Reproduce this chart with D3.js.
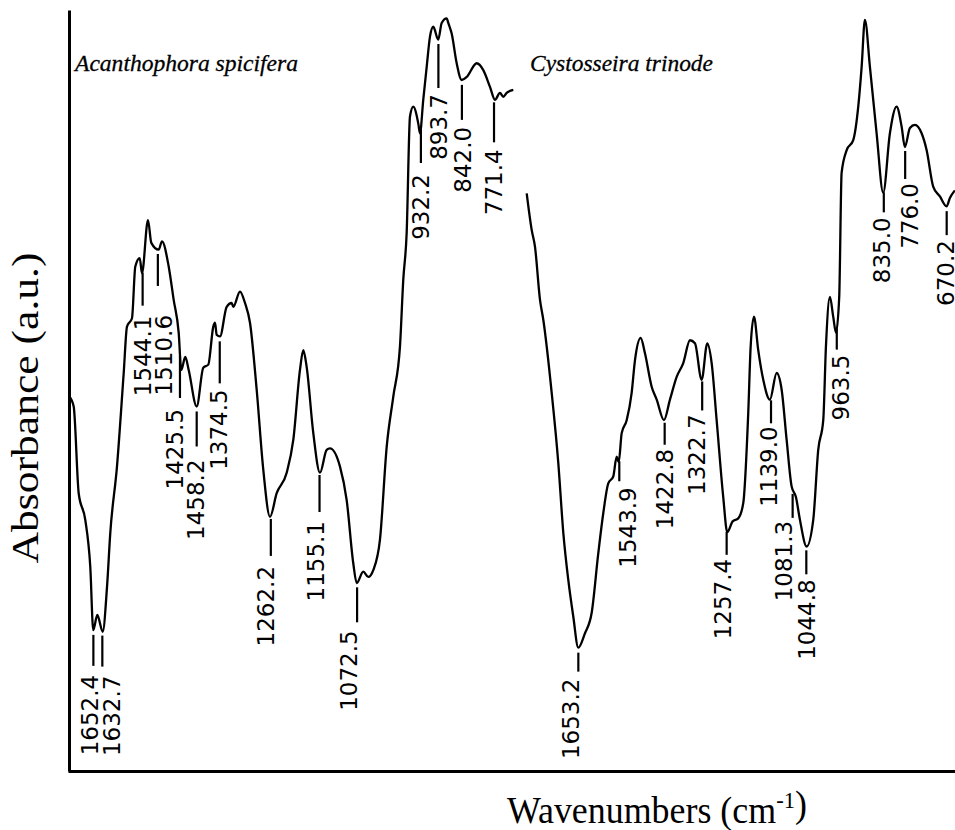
<!DOCTYPE html>
<html>
<head>
<meta charset="utf-8">
<script src="https://cdn.jsdelivr.net/npm/d3@7"></script>
<style>
  body { margin: 0; background: #fff; }
  .domain { stroke: #000; stroke-width: 3; }
</style>
</head>
<body>
<div class="chart"></div>
<script>
// Acanthophora spicifera: wavenumber (cm-1) and absorbance (a.u.)
var wnA = [1705.3, 1695.7, 1684.7, 1670.2, 1659.2, 1652.6, 1643.8, 1631.9, 1622.4, 1615.2,
  1600.5, 1585.7, 1578.5, 1567.5, 1560.2, 1550.5, 1545.5, 1532.3, 1525, 1508.8,
  1501.5, 1486.8, 1475.8, 1464.8, 1459.1, 1450.3, 1442.8, 1425.2, 1410.7, 1399.7,
  1388.7, 1385, 1381.2, 1374, 1359.3, 1348.3, 1344.7, 1330, 1319, 1308,
  1293.3, 1278.8, 1264, 1249.3, 1227.3, 1212.8, 1198.1, 1190.8, 1183.4, 1168.8,
  1154.1, 1139.4, 1132.1, 1110.1, 1095.4, 1080.9, 1073.4, 1058.9, 1047.9, 1036.9,
  1022.2, 1007.4, 992.9, 978.2, 971, 963.5, 956.2, 949, 938, 934.2,
  927, 919.5, 912.2, 905, 894, 886.5, 875.5, 872, 864.5, 853.5,
  842.5, 831.5, 809.5, 795, 780.3, 769.3, 758.3, 751, 743.6, 729];
var absA = [0.492, 0.479, 0.365, 0.330, 0.268, 0.185, 0.205, 0.183, 0.242, 0.313,
  0.400, 0.523, 0.584, 0.595, 0.663, 0.674, 0.654, 0.724, 0.694, 0.685,
  0.696, 0.663, 0.619, 0.576, 0.527, 0.544, 0.527, 0.479, 0.530, 0.534,
  0.584, 0.589, 0.573, 0.571, 0.610, 0.615, 0.610, 0.630, 0.615, 0.589,
  0.501, 0.396, 0.334, 0.365, 0.392, 0.435, 0.527, 0.553, 0.531, 0.444,
  0.392, 0.422, 0.424, 0.400, 0.356, 0.273, 0.247, 0.262, 0.255, 0.264,
  0.304, 0.426, 0.492, 0.558, 0.645, 0.707, 0.860, 0.873, 0.851, 0.838,
  0.882, 0.925, 0.965, 0.978, 0.961, 0.983, 0.989, 0.983, 0.969, 0.930,
  0.908, 0.912, 0.930, 0.921, 0.899, 0.882, 0.891, 0.886, 0.891, 0.895];

// Cystosseira trinode
var wnC = [1791, 1777.7, 1768.9, 1755.5, 1746.7, 1724.3, 1706.7, 1693.3, 1680, 1666.7,
  1653.3, 1635.5, 1617.6, 1600, 1586.6, 1573.3, 1560, 1550.9, 1545.5, 1537.5,
  1524.2, 1510.9, 1502, 1486.8, 1475.4, 1457.5, 1444.1, 1424.7, 1408.7, 1390.8,
  1373.2, 1355.3, 1342, 1324.1, 1309.1, 1297.4, 1284.1, 1266.5, 1255.8, 1241.4,
  1226.4, 1213.1, 1199.8, 1193.3, 1184.5, 1173.1, 1159.7, 1141.9, 1124, 1110.6,
  1097.3, 1084, 1072.5, 1061.8, 1044, 1026.3, 1013, 999.6, 992.4, 981.8,
  973, 965.7, 957, 950.6, 937, 919.6, 906.2, 897.2, 888.4, 875,
  857.2, 839.6, 821.7, 803.8, 790.5, 781.7, 768.3, 755, 737.1, 723.8,
  706.2, 688.3, 670.4, 661.6, 648.3];
var absC = [0.759, 0.711, 0.689, 0.619, 0.593, 0.497, 0.405, 0.313, 0.251, 0.203,
  0.162, 0.181, 0.208, 0.286, 0.339, 0.378, 0.387, 0.413, 0.406, 0.444,
  0.461, 0.497, 0.540, 0.569, 0.549, 0.505, 0.488, 0.461, 0.488, 0.518,
  0.536, 0.566, 0.562, 0.514, 0.562, 0.536, 0.461, 0.360, 0.314, 0.328,
  0.332, 0.352, 0.470, 0.558, 0.597, 0.553, 0.514, 0.488, 0.523, 0.501,
  0.435, 0.374, 0.360, 0.330, 0.295, 0.330, 0.422, 0.461, 0.558, 0.623,
  0.597, 0.576, 0.623, 0.786, 0.816, 0.829, 0.873, 0.925, 0.987, 0.925,
  0.838, 0.760, 0.838, 0.873, 0.847, 0.820, 0.845, 0.849, 0.838, 0.816,
  0.768, 0.755, 0.742, 0.753, 0.763];

// peak labels and where their marker sits (cm-1)
var peaksA = ["1652.4", "1632.7", "1544.1", "1510.6", "1425.5", "1458.2", "1374.5",
  "1262.2", "1155.1", "1072.5", "932.2", "893.7", "842.0", "771.4"];
var peakWnA = [1652.4, 1632.7, 1544.1, 1510.6, 1462, 1425.2, 1374.5,
  1262.2, 1155.1, 1072.5, 932.2, 893.7, 842.0, 771.4];
var peaksC = ["1653.2", "1543.9", "1422.8", "1322.7", "1257.4", "1139.0", "1081.3",
  "1044.8", "963.5", "835.0", "776.0", "670.2"];
var peakWnC = [1653.2, 1543.9, 1422.8, 1322.7, 1257.4, 1139.0, 1081.3,
  1044.8, 963.5, 838, 781, 670.2];

// label layout: tick length, gap before text, text shift (px)
var layoutA = [[31, 9, -3], [31, 9, 10], [33, 10, 0], [32, 29, 6], [42, 11, -5], [35, 13, -1], [42, 6, -1],
  [37, 10, -5], [37, 9, -4], [35, 8, -8], [34, 11, 0], [44, 6, 1], [35, 7, 1], [40, 7, 0]];
var layoutC = [[19, 7, -7], [20, 6, 9], [22, 4, 0], [29, 4, -5], [23, 4, -4], [23, 3, -2], [24, 3, -9],
  [24, 5, 1], [21, 5, 4], [20, 5, -2], [28, 4, 5], [24, 5, -1]];

var svgWidth = 955, svgHeight = 830;

var svg = d3.select(".chart")
  .append("svg")
  .attr("width", svgWidth)
  .attr("height", svgHeight)
  .style("display", "block");

var y = d3.scaleLinear().domain([0, 1]).range([771, 10]);
var xA = d3.scaleLinear().domain([1706, 729]).range([69, 513.3]);
var xC = d3.scaleLinear().domain([1791, 648]).range([526.7, 955]);
var frame = d3.scaleLinear().domain([0, 1]).range([68, 955]);

// axes: plain lines, no ticks
svg.append("g")
  .attr("transform", "translate(0,771)")
  .call(d3.axisBottom(frame).tickValues([]).tickSizeOuter(0));
svg.append("g")
  .attr("transform", "translate(69,0)")
  .call(d3.axisLeft(y).tickValues([]).tickSizeOuter(0));

function drawSpectrum(x, wn, abs, labels, peakWn, layout, title, titleX, titleLen) {
  var pts = wn.map(function(w, i) { return [w, abs[i]]; });
  var line = d3.line()
    .x(function(d) { return x(d[0]); })
    .y(function(d) { return y(d[1]); })
    .curve(d3.curveMonotoneX);

  svg.append("path")
    .attr("d", line(pts))
    .attr("fill", "none")
    .attr("stroke", "#000")
    .attr("stroke-width", 2.3)
    .attr("stroke-linejoin", "round");

  // value of the trace at any wavenumber
  var trace = d3.scaleLinear().domain(wn).range(abs);

  var g = svg.append("g");
  labels.forEach(function(lab, i) {
    var tx = x(peakWn[i]);
    var top = y(trace(peakWn[i])) + 5;
    var bot = top + layout[i][0];
    g.append("line")
      .attr("x1", tx).attr("x2", tx)
      .attr("y1", top).attr("y2", bot)
      .attr("stroke", "#000")
      .attr("stroke-width", 2.2);
    g.append("text")
      .attr("transform", "translate(" + (tx + layout[i][2]) + "," + (bot + layout[i][1]) + ") rotate(-90)")
      .attr("text-anchor", "end")
      .attr("dominant-baseline", "central")
      .style("font-family", "'DejaVu Sans', sans-serif")
      .style("font-size", "23px")
      .text(lab);
  });

  svg.append("text")
    .attr("x", titleX)
    .attr("y", 71)
    .attr("textLength", titleLen)
    .attr("lengthAdjust", "spacingAndGlyphs")
    .style("font-family", "'Liberation Serif', serif")
    .style("font-style", "italic")
    .style("font-size", "24px")
    .style("stroke", "#000")
    .style("stroke-width", 0.3)
    .text(title);
}

drawSpectrum(xA, wnA, absA, peaksA, peakWnA, layoutA, "Acanthophora spicifera", 75, 223);
drawSpectrum(xC, wnC, absC, peaksC, peakWnC, layoutC, "Cystosseira trinode", 530, 183);

// axis titles
svg.append("text")
  .attr("transform", "translate(38,408) rotate(-90)")
  .attr("text-anchor", "middle")
  .attr("textLength", 311)
  .attr("lengthAdjust", "spacingAndGlyphs")
  .style("font-family", "'Liberation Serif', serif")
  .style("font-size", "38px")
  .text("Absorbance (a.u.)");

var xt = svg.append("text")
  .attr("x", 507)
  .attr("y", 823)
  .attr("textLength", 300)
  .attr("lengthAdjust", "spacingAndGlyphs")
  .style("font-family", "'Liberation Serif', serif")
  .style("font-size", "38px");
xt.append("tspan").text("Wavenumbers (cm");
xt.append("tspan").attr("dy", -15).style("font-size", "24px").text("-1");
xt.append("tspan").attr("dy", 9).text(")");
</script>
</body>
</html>
